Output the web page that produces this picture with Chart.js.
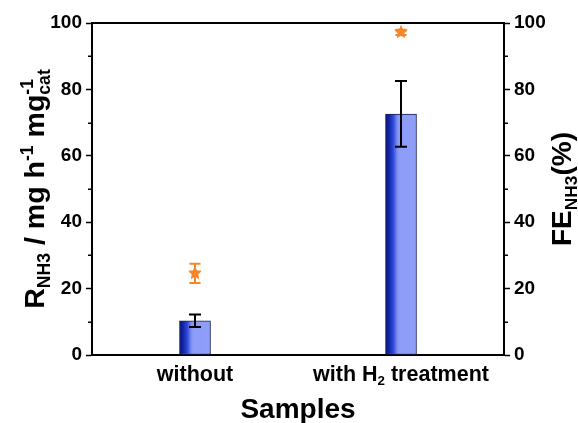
<!DOCTYPE html>
<html>
<head>
<meta charset="utf-8">
<script src="https://cdn.jsdelivr.net/npm/chart.js@4"></script>
<style>
  html, body { margin: 0; padding: 0; background: #fff; }
  #wrap { width: 578px; height: 423px; }
</style>
</head>
<body>
<div id="wrap"><canvas id="c" width="578" height="423"></canvas></div>
<script>
// Sample categories (rich-text: _{..} subscript, ^{..} superscript)
const categories = ['without', 'with H_{2} treatment'];
// NH3 yield rate (left axis) with error
const rateValues = [10.3, 72.6];
const rateErrors = [1.9, 9.9];
// Faradaic efficiency (right axis) with error
const feValues = [24.6, 97.2];
const feErrors = [2.9, 0.8];
// Axis ticks
const majorTicks = [0, 20, 40, 60, 80, 100];
const minorTicks = [10, 30, 50, 70, 90];
// Axis titles
const xTitle = 'Samples';
const yTitle = 'R_{NH3} / mg h^{-1} mg^{-1}_{cat}';
const y1Title = 'FE_{NH3}(%)';

const FONT = '"Liberation Sans", Arial, sans-serif';
const ORANGE = '#f5872a';

// Parse rich text into runs; consecutive ^{} and _{} stack
function parseRich(str) {
  const runs = [];
  let i = 0, buf = '';
  while (i < str.length) {
    const ch = str[i];
    if ((ch === '_' || ch === '^') && str[i + 1] === '{') {
      if (buf) { runs.push({ t: buf, k: 'n' }); buf = ''; }
      const end = str.indexOf('}', i);
      const txt = str.slice(i + 2, end);
      const prev = runs[runs.length - 1];
      const kind = ch === '_' ? 'sub' : 'sup';
      if (prev && prev.k === 'script' && !prev[kind] && prev.fresh) {
        prev[kind] = txt; prev.fresh = false;
      } else {
        const r = { k: 'script', fresh: true }; r[kind] = txt; runs.push(r);
      }
      i = end + 1;
    } else { buf += ch; i++; }
  }
  if (buf) runs.push({ t: buf, k: 'n' });
  return runs;
}

function richWidth(ctx, runs, size) {
  const small = size * 0.62;
  let w = 0;
  for (const r of runs) {
    if (r.k === 'n') { ctx.font = 'bold ' + size + 'px ' + FONT; w += ctx.measureText(r.t).width; }
    else {
      ctx.font = 'bold ' + small + 'px ' + FONT;
      w += Math.max(r.sub ? ctx.measureText(r.sub).width : 0, r.sup ? ctx.measureText(r.sup).width : 0);
    }
  }
  return w;
}

// Draw rich text centred horizontally at (x, baseline y)
function drawRich(ctx, str, x, y, size) {
  const runs = parseRich(str);
  const small = size * 0.62;
  const total = richWidth(ctx, runs, size);
  let cx = x - total / 2;
  ctx.textAlign = 'left';
  ctx.textBaseline = 'alphabetic';
  ctx.fillStyle = '#000';
  for (const r of runs) {
    if (r.k === 'n') {
      ctx.font = 'bold ' + size + 'px ' + FONT;
      ctx.fillText(r.t, cx, y);
      cx += ctx.measureText(r.t).width;
    } else {
      ctx.font = 'bold ' + small + 'px ' + FONT;
      let w = 0;
      if (r.sub) { ctx.fillText(r.sub, cx, y + size * 0.2); w = Math.max(w, ctx.measureText(r.sub).width); }
      if (r.sup) { ctx.fillText(r.sup, cx, y - size * 0.38); w = Math.max(w, ctx.measureText(r.sup).width); }
      cx += w;
    }
  }
}

// Filled five-point star used as the FE marker
function makeStar(r, color) {
  const c = document.createElement('canvas');
  const s = Math.ceil(r * 2 + 2);
  c.width = s; c.height = s;
  const g = c.getContext('2d');
  g.translate(s / 2, s / 2);
  g.beginPath();
  for (let k = 0; k < 10; k++) {
    const rad = k % 2 === 0 ? r : r * 0.45;
    const a = -Math.PI / 2 + k * Math.PI / 5;
    g.lineTo(rad * Math.cos(a), rad * Math.sin(a));
  }
  g.closePath();
  g.fillStyle = color;
  g.fill();
  return c;
}
const starImg = makeStar(7, ORANGE);

const BAR_W = 31;
function barGradient(c) {
  const chart = c.chart;
  const xs = chart.scales && chart.scales.x;
  if (!xs || c.dataIndex === undefined) return '#8c9cf8';
  const cx = xs.getPixelForValue(c.dataIndex);
  if (!isFinite(cx)) return '#8c9cf8';
  const g = chart.ctx.createLinearGradient(cx - BAR_W / 2, 0, cx + BAR_W / 2, 0);
  g.addColorStop(0.0, '#07107a');
  g.addColorStop(0.12, '#1226a8');
  g.addColorStop(0.25, '#3049d8');
  g.addColorStop(0.38, '#7d8ff2');
  g.addColorStop(0.45, '#8c9cf8');
  g.addColorStop(1.0, '#8e9ef9');
  return g;
}

// Frame, minor ticks, error bars and titles
const decorations = {
  id: 'decorations',
  afterDatasetsDraw(chart) {
    const { ctx, scales } = chart;
    ctx.save();
    const drawErr = (xPix, yScale, v, e, color, cap, lw) => {
      const yt = yScale.getPixelForValue(v + e);
      const yb = yScale.getPixelForValue(v - e);
      ctx.strokeStyle = color; ctx.lineWidth = lw;
      ctx.beginPath();
      ctx.moveTo(xPix, yt); ctx.lineTo(xPix, yb);
      ctx.moveTo(xPix - cap / 2, yt); ctx.lineTo(xPix + cap / 2, yt);
      ctx.moveTo(xPix - cap / 2, yb); ctx.lineTo(xPix + cap / 2, yb);
      ctx.stroke();
    };
    rateValues.forEach((v, i) => drawErr(scales.x.getPixelForValue(i), scales.y, v, rateErrors[i], '#000', 12, 2));
    feValues.forEach((v, i) => drawErr(scales.x.getPixelForValue(i), scales.y1, v, feErrors[i], ORANGE, 11, 2));
    // stars on top of their error bars
    feValues.forEach((v, i) => {
      const px = scales.x.getPixelForValue(i), py = scales.y1.getPixelForValue(v);
      ctx.drawImage(starImg, Math.round(px - starImg.width / 2), Math.round(py - starImg.height / 2));
    });
    ctx.restore();
  },
  afterDraw(chart) {
    const { ctx, chartArea: a, scales } = chart;
    ctx.save();
    ctx.strokeStyle = '#000';
    ctx.lineWidth = 2;
    ctx.beginPath();
    ctx.moveTo(a.left - 1, a.top); ctx.lineTo(a.right + 1, a.top);
    ctx.stroke();
    // minor ticks
    ctx.lineWidth = 1.5;
    ctx.beginPath();
    minorTicks.forEach(v => {
      const yl = Math.round(scales.y.getPixelForValue(v)) + 0.25;
      ctx.moveTo(a.left - 4, yl); ctx.lineTo(a.left, yl);
      const yr = Math.round(scales.y1.getPixelForValue(v)) + 0.25;
      ctx.moveTo(a.right, yr); ctx.lineTo(a.right + 4, yr);
    });
    ctx.stroke();
    // category labels
    categories.forEach((c, i) => drawRich(ctx, c, scales.x.getPixelForValue(i), 381, 21.5));
    // x title
    drawRich(ctx, xTitle, (a.left + a.right) / 2, 418, 28);
    // left title
    const midY = (a.top + a.bottom) / 2;
    ctx.save();
    ctx.translate(44, midY);
    ctx.rotate(-Math.PI / 2);
    drawRich(ctx, yTitle, 0, 0, 28.5);
    ctx.restore();
    // right title
    ctx.save();
    ctx.translate(571, midY);
    ctx.rotate(-Math.PI / 2);
    drawRich(ctx, y1Title, 0, 0, 28);
    ctx.restore();
    ctx.restore();
  }
};

const tickFont = { family: FONT, size: 19, weight: 'bold' };
const yAxis = (pos, width) => ({
  type: 'linear',
  position: pos,
  min: 0, max: 100,
  afterBuildTicks: s => { s.ticks = majorTicks.map(v => ({ value: v })); },
  afterFit: s => { s.width = width; },
  ticks: { font: tickFont, color: '#000', padding: 4 },
  grid: { drawOnChartArea: false, tickLength: 6, tickColor: '#000', tickWidth: 1.5 },
  border: { display: true, color: '#000', width: 2 }
});

new Chart(document.getElementById('c'), {
  data: {
    labels: categories,
    datasets: [
      {
        type: 'bar',
        data: rateValues,
        yAxisID: 'y',
        backgroundColor: barGradient,
        borderColor: '#1a1d4c',
        borderWidth: 1,
        borderSkipped: false,
        barThickness: BAR_W,
        order: 2
      },
      {
        type: 'line',
        data: feValues,
        yAxisID: 'y1',
        showLine: false,
        pointStyle: starImg,
        order: 1
      }
    ]
  },
  options: {
    responsive: false,
    animation: false,
    devicePixelRatio: 1,
    layout: { padding: { top: 23, left: 0, right: 0, bottom: 0 } },
    plugins: { legend: { display: false }, tooltip: { enabled: false } },
    scales: {
      x: {
        type: 'category',
        offset: true,
        afterFit: s => { s.height = 68; },
        ticks: { display: false },
        grid: { display: false },
        border: { display: true, color: '#000', width: 2 }
      },
      y: yAxis('left', 92),
      y1: yAxis('right', 74)
    }
  },
  plugins: [decorations]
});
</script>
</body>
</html>
